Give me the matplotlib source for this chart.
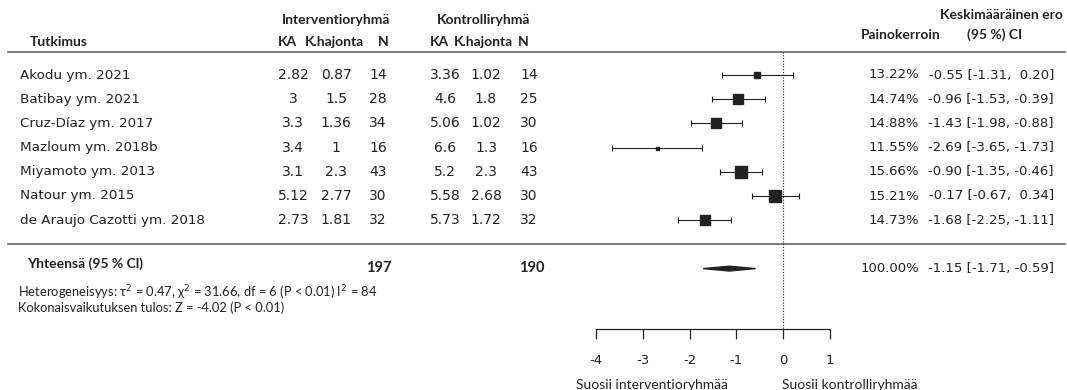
import matplotlib
matplotlib.use("Agg")
import matplotlib.pyplot as plt
from matplotlib.patches import Polygon

# data
studies = ["Akodu ym. 2021", "Batibay ym. 2021", "Cruz-Díaz ym. 2017", "Mazloum ym. 2018b",
           "Miyamoto ym. 2013", "Natour ym. 2015", "de Araujo Cazotti ym. 2018"]
int_mean = ["2.82", "3", "3.3", "3.4", "3.1", "5.12", "2.73"]
int_sd = ["0.87", "1.5", "1.36", "1", "2.3", "2.77", "1.81"]
int_n = [14, 28, 34, 16, 43, 30, 32]
ctl_mean = ["3.36", "4.6", "5.06", "6.6", "5.2", "5.58", "5.73"]
ctl_sd = ["1.02", "1.8", "1.02", "1.3", "2.3", "2.68", "1.72"]
ctl_n = [14, 25, 30, 16, 43, 30, 32]
weights = [13.22, 14.74, 14.88, 11.55, 15.66, 15.21, 14.73]
md = [-0.55, -0.96, -1.43, -2.69, -0.90, -0.17, -1.68]
lo = [-1.31, -1.53, -1.98, -3.65, -1.35, -0.67, -2.25]
hi = [0.20, -0.39, -0.88, -1.73, -0.46, 0.34, -1.11]
total_md, total_lo, total_hi = -1.15, -1.71, -0.59
total_n_int, total_n_ctl = 197, 190
xticks = [-4, -3, -2, -1, 0, 1]

W, H = 1067, 390
row0, step = 75, 24.2
ytop = -row0 / step
ybot = (H - row0) / step

dark = "#222222"
hfont = ["Lato", "DejaVu Sans"]
nfont = "DejaVu Sans"

fig = plt.figure(figsize=(W / 100, H / 100), dpi=100)

tax = fig.add_axes([0, 0, 1, 1])
tax.set_xlim(0, W)
tax.set_ylim(ybot, ytop)
tax.axis("off")

def px2row(y):
    return (y - row0) / step

def head(x, y, s, ha="center", size=10):
    tax.text(x, px2row(y), s, ha=ha, va="center", fontsize=size,
             fontweight="bold", family=hfont, color=dark)

# headers
head(336, 20, "Interventioryhmä")
head(484, 20, "Kontrolliryhmä")
head(30, 42, "Tutkimus", ha="left")
head(287, 42, "KA")
head(334, 42, "K.hajonta")
head(383, 42, "N")
head(439, 42, "KA")
head(483, 42, "K.hajonta")
head(523, 42, "N")
head(1063, 15, "Keskimääräinen ero", ha="right")
head(861, 35, "Painokerroin", ha="left")
head(995, 35, "(95 %) CI")

# rules
tax.plot([8, 1065], [px2row(52)] * 2, color="#555555", lw=1.1)
tax.plot([8, 1065], [px2row(244)] * 2, color="#555555", lw=1.1)

# study rows
cols = [(293, int_mean), (336, int_sd), (378, int_n), (445, ctl_mean), (486, ctl_sd), (529, ctl_n)]
for i, name in enumerate(studies):
    tax.text(20, i, name, ha="left", va="center", fontsize=9.7, family=nfont, color=dark)
    for x, vals in cols:
        tax.text(x, i, str(vals[i]), ha="center", va="center", fontsize=10, family=nfont, color=dark)
    tax.text(919, i, f"{weights[i]:.2f}%", ha="right", va="center", fontsize=9.5,
             family=nfont, color=dark)
    tax.text(1054, i, f"{md[i]:.2f} [{lo[i]:.2f}, {hi[i]:5.2f}]",
             ha="right", va="center", fontsize=9.5, family=nfont, color=dark)

# total row
ty = len(studies) + 1
head(27, 264, "Yhteensä (95 % Cl)", ha="left")
head(379, 268, str(total_n_int), size=10.5)
head(532, 268, str(total_n_ctl), size=10.5)
tax.text(919, ty, "100.00%", ha="right", va="center", fontsize=9.5, family=nfont, color=dark)
tax.text(1054, ty, f"{total_md:.2f} [{total_lo:.2f}, {total_hi:.2f}]", ha="right", va="center",
         fontsize=9.5, family=nfont, color=dark)

tax.text(18, px2row(293), "Heterogeneisyys: τ$^2$ = 0.47, χ$^2$ = 31.66, df = 6 (P < 0.01) I$^2$ = 84",
         ha="left", va="center", fontsize=9.3, family=hfont, color=dark)
tax.text(18, px2row(308), "Kokonaisvaikutuksen tulos: Z = -4.02 (P < 0.01)",
         ha="left", va="center", fontsize=9.3, family=hfont, color=dark)

tax.text(728, px2row(385), "Suosii interventioryhmää", ha="right", va="center", fontsize=10,
         family=hfont, color=dark)
tax.text(782, px2row(385), "Suosii kontrolliryhmää", ha="left", va="center", fontsize=10,
         family=hfont, color=dark)

# forest panel
x0, x1 = 596, 830
fax = fig.add_axes([x0 / W, 0, (x1 - x0) / W, 1])
fax.set_xlim(xticks[0], xticks[-1])
fax.set_ylim(ybot, ytop)
fax.patch.set_visible(False)
for s in ["top", "left", "right"]:
    fax.spines[s].set_visible(False)
fax.spines["bottom"].set_position(("data", px2row(329)))
fax.spines["bottom"].set_bounds(xticks[0], xticks[-1])
fax.spines["bottom"].set_linewidth(0.9)
fax.spines["bottom"].set_color(dark)
fax.set_yticks([])
fax.set_xticks(xticks)
fax.set_xticklabels([str(t) for t in xticks])
fax.tick_params(axis="x", direction="out", length=7.2, width=0.9, color=dark,
                labelsize=9.5, labelcolor=dark, pad=11)

wmin, wmax = min(weights), max(weights)
for i in range(len(studies)):
    side = 3 + (weights[i] - wmin) / (wmax - wmin) * 9
    fax.errorbar(md[i], i, xerr=[[md[i] - lo[i]], [hi[i] - md[i]]], fmt="none",
                 ecolor=dark, elinewidth=0.8, capsize=2.5, capthick=0.8, clip_on=False)
    fax.plot(md[i], i, marker="s", ms=side * 0.72, color=dark, mec=dark, clip_on=False)

fax.add_patch(Polygon([(total_lo, ty), (total_md, ty - 0.1), (total_hi, ty), (total_md, ty + 0.1)],
                      closed=True, color=dark, clip_on=False))

fax.plot([0, 0], [px2row(52), px2row(329)], color=dark, lw=0.8, ls=(0, (1, 1.5)), clip_on=False)

fig.savefig("out.png", dpi=100)
